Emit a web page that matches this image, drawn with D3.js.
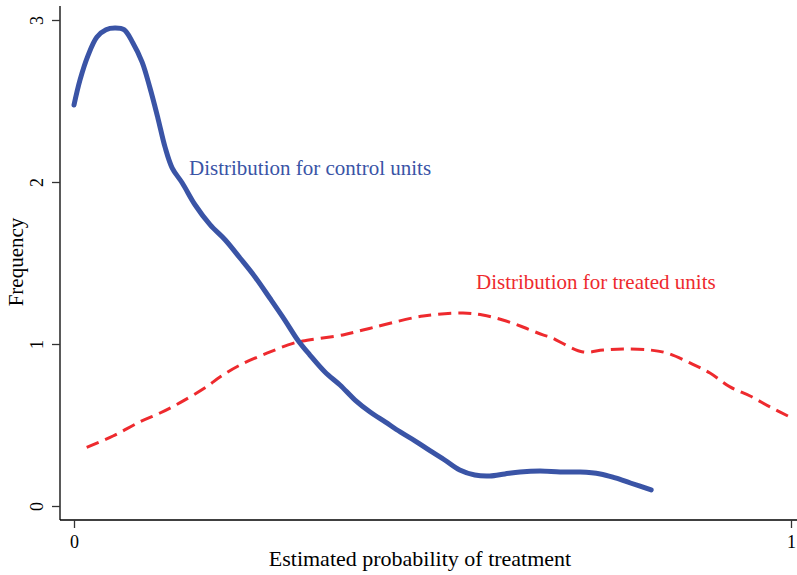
<!DOCTYPE html>
<html>
<head>
<meta charset="utf-8">
<script src="https://cdn.jsdelivr.net/npm/d3@7"></script>
<style>
  html, body { margin: 0; padding: 0; background: #fff; }
  svg { display: block; }
  text { font-family: "Liberation Serif", "Times New Roman", serif; }
</style>
</head>
<body>
<svg id="chart" width="797" height="575"></svg>
<script>
// Density of estimated propensity scores, control vs treated units
const controlP = [0, 0.0084, 0.0195, 0.032, 0.0446, 0.057, 0.0697, 0.082, 0.095, 0.106, 0.117, 0.127, 0.137, 0.151, 0.169, 0.19, 0.211, 0.2315, 0.2525, 0.273, 0.294, 0.312, 0.329, 0.35, 0.371, 0.392, 0.413, 0.434, 0.455, 0.476, 0.497, 0.517, 0.538, 0.559, 0.58, 0.601, 0.622, 0.65, 0.678, 0.706, 0.734, 0.755, 0.776, 0.805];
const controlF = [2.475, 2.63, 2.78, 2.895, 2.94, 2.95, 2.94, 2.86, 2.74, 2.58, 2.395, 2.215, 2.086, 1.994, 1.858, 1.735, 1.642, 1.531, 1.414, 1.284, 1.148, 1.025, 0.932, 0.827, 0.747, 0.654, 0.58, 0.519, 0.457, 0.401, 0.34, 0.284, 0.222, 0.191, 0.185, 0.198, 0.21, 0.216, 0.21, 0.21, 0.198, 0.173, 0.142, 0.099];

const treatedP = [0.0177, 0.0544, 0.092, 0.12, 0.148, 0.185, 0.204, 0.2315, 0.269, 0.3054, 0.319, 0.375, 0.403, 0.431, 0.487, 0.5425, 0.57, 0.598, 0.626, 0.654, 0.664, 0.71, 0.738, 0.766, 0.803, 0.827, 0.859, 0.887, 0.915, 0.943, 0.971, 0.9986];
const treatedF = [0.362, 0.432, 0.52, 0.574, 0.638, 0.736, 0.798, 0.87, 0.943, 1.004, 1.018, 1.056, 1.086, 1.117, 1.173, 1.191, 1.179, 1.148, 1.105, 1.056, 1.043, 0.951, 0.963, 0.969, 0.963, 0.944, 0.883, 0.821, 0.735, 0.679, 0.611, 0.549];

const xTicks = [0, 1];
const yTicks = [0, 1, 2, 3];
const xTitle = "Estimated probability of treatment";
const yTitle = "Frequency";
const controlLabel = "Distribution for control units";
const treatedLabel = "Distribution for treated units";

const svg = d3.select("#chart");
const blue = "#3a54a6";
const red = "#ee2a2e";

const x = d3.scaleLinear().domain([0, 1]).range([74, 791]);
const y = d3.scaleLinear().domain([0, 3]).range([506, 20]);

// axis frame lines
svg.append("line").attr("x1", 60).attr("x2", 797).attr("y1", 520).attr("y2", 520)
  .attr("stroke", "#000").attr("stroke-width", 1.3);
svg.append("line").attr("x1", 60).attr("x2", 60).attr("y1", 6).attr("y2", 520)
  .attr("stroke", "#000").attr("stroke-width", 1.3);

// x axis ticks
const xAxis = d3.axisBottom(x).tickValues(xTicks).tickFormat(d3.format("d")).tickSize(8);
const gx = svg.append("g").attr("transform", "translate(0,520)").call(xAxis);
gx.select(".domain").remove();
gx.selectAll(".tick line").attr("stroke", "#333").attr("stroke-width", 1.3);
gx.selectAll(".tick text").attr("y", 28).attr("dy", null)
  .attr("font-size", 18).attr("fill", "#000")
  .style("font-family", "'Liberation Serif', serif");

// y axis ticks, labels rotated
const yAxis = d3.axisLeft(y).tickValues(yTicks).tickFormat(d3.format("d")).tickSize(8);
const gy = svg.append("g").attr("transform", "translate(60,0)").call(yAxis);
gy.select(".domain").remove();
gy.selectAll(".tick line").attr("stroke", "#333").attr("stroke-width", 1.3);
gy.selectAll(".tick text")
  .attr("x", 0).attr("dy", null).attr("text-anchor", "middle")
  .attr("transform", "translate(-17,0) rotate(-90)")
  .attr("font-size", 18).attr("fill", "#000")
  .style("font-family", "'Liberation Serif', serif");

// axis titles
svg.append("text").attr("x", 420).attr("y", 566).attr("text-anchor", "middle")
  .attr("font-size", 22).attr("fill", "#000").text(xTitle);
svg.append("text").attr("transform", "translate(23,262) rotate(-90)").attr("text-anchor", "middle")
  .attr("font-size", 21).attr("fill", "#000").text(yTitle);

// curves
const line = d3.line().x(d => x(d[0])).y(d => y(d[1])).curve(d3.curveCatmullRom.alpha(0.5));

svg.append("path").datum(d3.zip(treatedP, treatedF))
  .attr("d", line).attr("fill", "none").attr("stroke", red)
  .attr("stroke-width", 3).attr("stroke-dasharray", "13,7");

svg.append("path").datum(d3.zip(controlP, controlF))
  .attr("d", line).attr("fill", "none").attr("stroke", blue)
  .attr("stroke-width", 5).attr("stroke-linecap", "round").attr("stroke-linejoin", "round");

// curve labels
svg.append("text").attr("x", 189).attr("y", 175).attr("font-size", 21).attr("fill", blue).text(controlLabel);
svg.append("text").attr("x", 476).attr("y", 289).attr("font-size", 21).attr("fill", red).text(treatedLabel);
</script>
</body>
</html>
